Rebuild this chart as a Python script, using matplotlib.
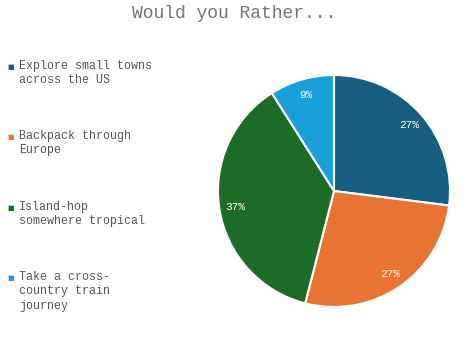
import matplotlib
matplotlib.use("Agg")
import matplotlib.pyplot as plt

title = "Would you Rather..."
categories = ["Explore small towns\nacross the US", "Backpack through\nEurope",
              "Island-hop\nsomewhere tropical", "Take a cross-\ncountry train\njourney"]
values = [27, 27, 37, 9]
colors = ["#175e80", "#e87434", "#1c6c27", "#18a0d9"]

W, H = 469, 344
fig = plt.figure(figsize=(W / 100, H / 100), dpi=100)
fig.patch.set_facecolor("white")

mono = "Liberation Mono"
fig.text(234 / W, 1 - 14 / H, title, ha="center", va="center",
         fontsize=13, family=mono, color="#767676")

cx, cy, r = 334, 191, 116
ax = fig.add_axes([(cx - r) / W, 1 - (cy + r) / H, 2 * r / W, 2 * r / H])
wedges, texts, autotexts = ax.pie(values, colors=colors, startangle=90, counterclock=False,
                                  autopct=lambda p: f"{p:.0f}%", pctdistance=0.86,
                                  wedgeprops=dict(edgecolor="white", linewidth=1.5),
                                  textprops=dict(color="white", fontsize=8, family=mono))
ax.set_aspect("equal")
ax.set_xlim(-1.0, 1.0)
ax.set_ylim(-1.0, 1.0)

ys = [67, 137, 208, 278]
for y, lab, c in zip(ys, categories, colors):
    fig.text(11 / W, 1 - y / H, "\u25a0", ha="center", va="center", fontsize=5, color=c)
    fig.text(19 / W, 1 - (y - 7) / H, lab, ha="left", va="top", fontsize=8.4,
             family=mono, color="#555555", linespacing=1.25)

fig.savefig("out.png", dpi=100)
